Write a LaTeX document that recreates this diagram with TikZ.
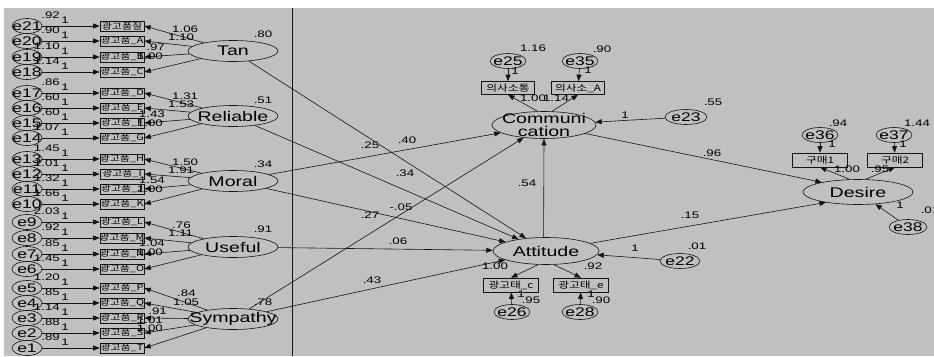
\documentclass[tikz,border=0pt]{standalone}
\usepackage{fontspec}
\setmainfont[FakeStretch=1.4]{Liberation Sans}
\newfontfamily\kr[FakeStretch=1.3]{Noto Sans CJK KR}
\usetikzlibrary{shapes.geometric,arrows.meta}
\definecolor{bg}{HTML}{C0C0C0}
\definecolor{ink}{HTML}{151515}
\begin{document}
\begin{tikzpicture}[x=1pt,y=-1pt,
  lat/.style={ellipse,draw=ink,line width=0.6pt,inner sep=0pt,font=\fontsize{14}{14}\selectfont},
  latt/.style={inner sep=0pt,align=center,font=\fontsize{14}{13}\selectfont},
  ind/.style={rectangle,draw=ink,line width=0.6pt,inner sep=0pt,font=\kr\fontsize{8.4}{8.4}\selectfont},
  err/.style={ellipse,draw=ink,line width=0.6pt,inner sep=0pt,minimum width=#1,minimum height=15,font=\fontsize{12.5}{12.5}\selectfont},
  err/.default=38,
  num/.style={inner sep=0pt,font=\fontsize{9.5}{9.5}\selectfont},
  pth/.style={draw=ink,line width=0.6pt,-{Triangle[length=6.5pt,width=5pt]}},
]
\fill[white] (0,0) rectangle (934,356);
\fill[bg] (4,8) rectangle (934,356);
\useasboundingbox (0,0) rectangle (934,356);
\coordinate (vtop) at (292,8);
\coordinate (vbot) at (292,356);
\draw[ink,line width=0.8pt] (vtop) -- (vbot);

% latent variables (left)
\node[lat,minimum width=90,minimum height=21] (tan) at (233,51) {\makebox[0pt]{Tan}};
\node[lat,minimum width=90,minimum height=21] (rel) at (233,116) {\makebox[0pt]{Reliable}};
\node[lat,minimum width=90,minimum height=21] (mor) at (233,181) {\makebox[0pt]{Moral}};
\node[lat,minimum width=90,minimum height=21] (use) at (233,247) {\makebox[0pt]{Useful}};
\node[lat,minimum width=90,minimum height=21] (sym) at (233,319) {\makebox[0pt]{Sympathy}};
\node[num] (vtan) at (263,34) {.80};
\node[num] (vrel) at (263,100) {.51};
\node[num] (vmor) at (263,164) {.34};
\node[num] (vuse) at (263,229) {.91};
\node[num] (vsym) at (263,302) {.78};

% left indicators and errors
\foreach \y/\n/\v/\t/\l in {
  26/21/.92/광고품질/tan, 41/20/.90/광고품\_A/tan, 57/19/1.10/광고품\_B/tan, 72/18/1.14/광고품\_C/tan,
  93/17/.86/광고품\_D/rel, 108/16/.60/광고품\_E/rel, 123/15/.60/광고품\_F/rel, 138/14/1.07/광고품\_G/rel,
  159/13/1.45/광고품\_H/mor, 174/12/1.01/광고품\_I/mor, 189/11/1.32/광고품\_J/mor, 204/10/1.66/광고품\_K/mor,
  222/9/2.03/광고품\_L/use, 238/8/.92/광고품\_M/use, 254/7/.85/광고품\_N/use, 269/6/1.45/광고품\_O/use,
  288/5/1.20/광고품\_P/sym, 303/4/.85/광고품\_Q/sym, 318/3/1.14/광고품\_R/sym, 333/2/.88/광고품\_S/sym, 348/1/.89/광고품\_T/sym}{
  \node[err=30] (e\n) at (27,\y) {\makebox[0pt]{e\n}};
  \node[ind,minimum width=44,minimum height=10] (b\n) at (122,\y) {\makebox[0pt]{\t}};
  \draw[pth] (e\n) -- (b\n);
  \draw[pth] (\l) -- (b\n.east);
  \node[num,anchor=east] (ve\n) at (60,\y-11) {\v};
  \node[num] (one\n) at (65,\y-6) {1};
}

% loadings (left)
\foreach \y/\a/\b/\c/\d in {26/1.06/1.10/.97/1.00, 93/1.31/1.53/1.43/1.00, 159/1.50/1.91/1.54/1.00, 222/.76/1.11/1.04/1.00}{
  \node[num,anchor=west] (la\y) at (172,\y+3) {\a};
  \node[num,anchor=west] (lb\y) at (168,\y+11) {\b};
  \node[num,anchor=east] (lc\y) at (165,\y+21) {\c};
  \node[num,anchor=east] (ld\y) at (163,\y+30) {\d};
}
\node[num,anchor=west] (ls1) at (177,293) {.84};
\node[num,anchor=west] (ls2) at (173,302) {1.05};
\node[num,anchor=east] (ls3) at (167,311) {.91};
\node[num,anchor=east] (ls4) at (163,320) {1.01};
\node[num,anchor=east] (ls5) at (163,328) {1.00};

% right latent variables
\node[lat,minimum width=104,minimum height=27] (comm) at (544,125) {};
\node[latt] (commT) at (comm) {Communi\\cation};
\node[lat,minimum width=106,minimum height=27] (att) at (546,251) {\makebox[0pt]{Attitude}};
\node[lat,minimum width=110,minimum height=25] (des) at (858,192) {\makebox[0pt]{Desire}};

% right indicators
\node[ind,minimum width=53,minimum height=13,font=\kr\fontsize{9}{9}\selectfont] (cb1) at (508,88) {\makebox[0pt]{의사소통}};
\node[ind,minimum width=53,minimum height=13,font=\kr\fontsize{9}{9}\selectfont] (cb2) at (578,88) {\makebox[0pt]{의사소\_A}};
\node[ind,minimum width=55,minimum height=14,font=\kr\fontsize{9}{9}\selectfont] (ab1) at (511,285) {\makebox[0pt]{광고태\_c}};
\node[ind,minimum width=55,minimum height=14,font=\kr\fontsize{9}{9}\selectfont] (ab2) at (581,285) {\makebox[0pt]{광고태\_e}};
\node[ind,minimum width=55,minimum height=14,font=\kr\fontsize{9}{9}\selectfont] (db1) at (820,160) {\makebox[0pt]{구매1}};
\node[ind,minimum width=55,minimum height=14,font=\kr\fontsize{9}{9}\selectfont] (db2) at (895,160) {\makebox[0pt]{구매2}};

% right errors
\node[err=36] (e25) at (508,61) {\makebox[0pt]{e25}};
\node[err=36] (e35) at (580,61) {\makebox[0pt]{e35}};
\node[err=42] (e23) at (686,117) {\makebox[0pt]{e23}};
\node[err=40] (e22) at (680,261) {\makebox[0pt]{e22}};
\node[err=36] (e26) at (512,312) {\makebox[0pt]{e26}};
\node[err=36] (e28) at (580,312) {\makebox[0pt]{e28}};
\node[err=36] (e36) at (820,135) {\makebox[0pt]{e36}};
\node[err=36] (e37) at (894,135) {\makebox[0pt]{e37}};
\node[err=38] (e38) at (908,227) {\makebox[0pt]{e38}};

% structural paths
\draw[pth] (tan) -- (att);
\draw[pth] (rel) -- (att);
\draw[pth] (mor) -- (att);
\draw[pth] (use) -- (att);
\draw[pth] (sym) -- (att);
\draw[pth] (mor) -- (comm);
\draw[pth] (sym) -- (comm);
\draw[pth] (att.100) -- (comm.south);
\draw[pth] (comm) -- (des.165);
\draw[pth] (att) -- (des.198);
\draw[pth] (e23) -- (comm);
\draw[pth] (e22) -- (att);
\draw[pth] (e38) -- (des);

% measurement paths (right)
\draw[pth] (comm.115) -- (cb1.south);
\draw[pth] (comm.60) -- (cb2.south);
\draw[pth] (att.240) -- (ab1.north);
\draw[pth] (att.300) -- (ab2.north);
\draw[pth] (des.123) -- (db1.south);
\draw[pth] (des.60) -- (db2.south);
\draw[pth] (e25) -- (cb1);
\draw[pth] (e35) -- (cb2);
\draw[pth] (e26) -- (ab1);
\draw[pth] (e28) -- (ab2);
\draw[pth] (e36) -- (db1);
\draw[pth] (e37) -- (db2);

% structural labels
\node[num] (p1) at (370,145) {.25};
\node[num] (p2) at (407,140) {.40};
\node[num] (p3) at (405,173) {.34};
\node[num] (p4) at (401,207) {-.05};
\node[num] (p5) at (370,215) {.27};
\node[num] (p6) at (398,241) {.06};
\node[num] (p7) at (372,280) {.43};
\node[num] (p8) at (527,183) {.54};
\node[num] (p9) at (712,153) {.96};
\node[num] (p10) at (690,215) {.15};

% right labels
\node[num] (r1) at (533,48) {1.16};
\node[num] (r2) at (602,49) {.90};
\node[num] (r3) at (515,71) {1};
\node[num] (r4) at (588,70) {1};
\node[num] (r5) at (533,98) {1.00};
\node[num] (r6) at (556,98) {1.14};
\node[num] (r7) at (625,115) {1};
\node[num] (r8) at (713,102) {.55};
\node[num] (r9) at (495,266) {1.00};
\node[num] (r10) at (593,266) {.92};
\node[num] (r11) at (521,294) {1};
\node[num] (r12) at (531,300) {.95};
\node[num] (r13) at (591,294) {1};
\node[num] (r14) at (601,300) {.90};
\node[num] (r15) at (635,248) {1};
\node[num] (r16) at (697,246) {.01};
\node[num] (r17) at (838,123) {.94};
\node[num] (r18) at (917,123) {1.44};
\node[num] (r19) at (832,144) {1};
\node[num] (r20) at (903,144) {1};
\node[num] (r21) at (847,169) {1.00};
\node[num] (r22) at (880,169) {.95};
\node[num] (r23) at (900,205) {1};
\node[num] (r24) at (930,210) {.01};
\end{tikzpicture}
\end{document}
